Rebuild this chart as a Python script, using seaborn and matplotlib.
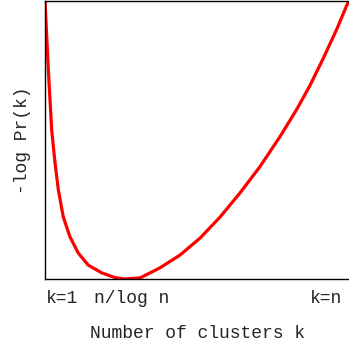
import matplotlib
matplotlib.use("Agg")
import matplotlib.pyplot as plt
import seaborn as sns
import pandas as pd

# curve (k scaled 0..1, cost scaled 0..1)
k_vals = [0.0, 0.011, 0.022, 0.033, 0.044, 0.060, 0.082, 0.109, 0.142,
          0.187, 0.230, 0.263, 0.313, 0.378, 0.444, 0.510, 0.576, 0.641,
          0.707, 0.773, 0.828, 0.872, 0.915, 0.960, 0.992, 1.0]
cost_vals = [1.0, 0.752, 0.536, 0.417, 0.320, 0.224, 0.152, 0.094, 0.050,
             0.022, 0.005, 0.0, 0.004, 0.040, 0.086, 0.147, 0.223, 0.309,
             0.404, 0.512, 0.610, 0.697, 0.793, 0.899, 0.983, 1.0]
tick_pos = [0.056, 0.285, 0.924]
tick_labels = ["k=1", "n/log n", "k=n"]

df = pd.DataFrame({"k": k_vals, "cost": cost_vals})

sns.set_style("white")
plt.rcParams['font.family'] = ['Liberation Mono', 'DejaVu Sans Mono']

fig = plt.figure(figsize=(3.49, 3.49), dpi=100)
ax = fig.add_axes([45/349, 70/349, 304/349, 278/349])

sns.lineplot(data=df, x="k", y="cost", color="red", linewidth=2.3, ax=ax)
ax.lines[0].set_solid_joinstyle('round')

ax.set_xlim(0, 1)
ax.set_ylim(0, 1)
ax.set_xticks(tick_pos)
ax.set_xticklabels(tick_labels, fontsize=13)
ax.set_yticks([])
ax.tick_params(axis='x', length=0, pad=8)
ax.set_xlabel("Number of clusters k", fontsize=13, labelpad=13)
ax.set_ylabel("-log Pr(k)", fontsize=13, labelpad=10)

for side in ['left', 'bottom', 'top']:
    ax.spines[side].set_color('black')
    ax.spines[side].set_linewidth(1.0)
ax.spines['right'].set_visible(False)

fig.savefig("out.png", dpi=100)
